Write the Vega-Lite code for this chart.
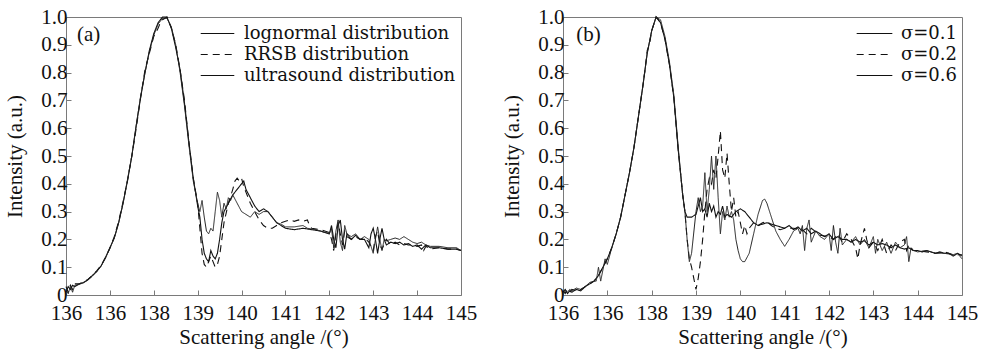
{
  "$schema": "https://vega.github.io/schema/vega-lite/v6.json",
  "background": "white",
  "padding": {"left": 4, "top": 5, "right": 5, "bottom": 2},
  "spacing": 102,
  "bounds": "flush",
  "config": {
    "font": "'Liberation Serif', serif",
    "view": {"stroke": "#7a7a7a", "strokeWidth": 1},
    "axis": {
      "grid": false, "domain": false, "tickColor": "#7a7a7a", "tickSize": -5, "labelOverlap": false,
      "labelFont": "'Liberation Serif', serif", "labelFontSize": 21, "labelColor": "#111",
      "titleFont": "'Liberation Serif', serif", "titleFontSize": 21, "titleFontWeight": "normal", "titleColor": "#111"
    },
    "legend": {"labelFont": "'DejaVu Serif', serif", "labelFontSize": 18, "labelColor": "#111", "labelLimit": 400}
  },
  "datasets": {
    "la1": [
      {"x":136.0,"y":0.01},{"x":136.05,"y":0.03},{"x":136.1,"y":0.02},{"x":136.15,"y":0.035},{"x":136.2,"y":0.03},{"x":136.3,"y":0.04},{"x":136.4,"y":0.045},{"x":136.5,"y":0.055},{"x":136.6,"y":0.07},{"x":136.7,"y":0.085},{"x":136.8,"y":0.105},{"x":136.9,"y":0.135},{"x":137.0,"y":0.17},{"x":137.1,"y":0.205},{"x":137.2,"y":0.26},{"x":137.3,"y":0.33},{"x":137.4,"y":0.41},{"x":137.5,"y":0.5},{"x":137.6,"y":0.61},{"x":137.7,"y":0.71},{"x":137.8,"y":0.8},{"x":137.9,"y":0.88},{"x":138.0,"y":0.94},{"x":138.1,"y":0.98},{"x":138.2,"y":1.0},{"x":138.3,"y":1.0},{"x":138.4,"y":0.96},{"x":138.5,"y":0.89},{"x":138.6,"y":0.81},{"x":138.7,"y":0.69},{"x":138.8,"y":0.55},{"x":138.9,"y":0.42},
      {"x":139.0,"y":0.32},{"x":139.05,"y":0.28},{"x":139.1,"y":0.2},{"x":139.15,"y":0.15},{"x":139.2,"y":0.13},{"x":139.25,"y":0.12},{"x":139.3,"y":0.16},{"x":139.35,"y":0.14},{"x":139.4,"y":0.13},{"x":139.45,"y":0.15},{"x":139.5,"y":0.2},{"x":139.55,"y":0.26},{"x":139.6,"y":0.3},{"x":139.7,"y":0.33},{"x":139.8,"y":0.36},{"x":139.9,"y":0.38},{"x":140.0,"y":0.4},{"x":140.05,"y":0.41},{"x":140.1,"y":0.38},{"x":140.2,"y":0.35},{"x":140.3,"y":0.32},{"x":140.4,"y":0.3},{"x":140.5,"y":0.31},{"x":140.6,"y":0.3},{"x":140.7,"y":0.28},{"x":140.8,"y":0.26},{"x":140.9,"y":0.25},{"x":141.0,"y":0.24},{"x":141.2,"y":0.235},{"x":141.4,"y":0.24},{"x":141.6,"y":0.235},{"x":141.8,"y":0.23},{"x":142.0,"y":0.22},{"x":142.05,"y":0.25},{"x":142.1,"y":0.2},{"x":142.15,"y":0.17},{"x":142.2,"y":0.25},{"x":142.25,"y":0.27},{"x":142.3,"y":0.2},{"x":142.35,"y":0.165},{"x":142.4,"y":0.22},{"x":142.5,"y":0.2},{"x":142.6,"y":0.215},{"x":142.7,"y":0.2},{"x":142.8,"y":0.2},{"x":142.9,"y":0.17},{"x":142.95,"y":0.22},{"x":143.0,"y":0.24},{"x":143.05,"y":0.2},{"x":143.1,"y":0.15},{"x":143.15,"y":0.2},{"x":143.2,"y":0.24},{"x":143.25,"y":0.2},{"x":143.3,"y":0.18},{"x":143.4,"y":0.19},{"x":143.5,"y":0.185},{"x":143.6,"y":0.19},{"x":143.7,"y":0.18},{"x":143.8,"y":0.185},{"x":143.9,"y":0.175},{"x":144.0,"y":0.18},{"x":144.1,"y":0.165},{"x":144.2,"y":0.18},{"x":144.3,"y":0.17},{"x":144.5,"y":0.17},{"x":144.7,"y":0.165},{"x":144.9,"y":0.165},{"x":145.0,"y":0.16}
    ],
    "la2": [
      {"x":136.0,"y":0.03},{"x":136.05,"y":0.01},{"x":136.1,"y":0.035},{"x":136.15,"y":0.02},{"x":136.2,"y":0.04},{"x":136.3,"y":0.04},{"x":136.4,"y":0.047},{"x":136.5,"y":0.056},{"x":136.6,"y":0.07},{"x":136.7,"y":0.087},{"x":136.8,"y":0.107},{"x":136.9,"y":0.135},{"x":137.0,"y":0.168},{"x":137.1,"y":0.21},{"x":137.2,"y":0.265},{"x":137.3,"y":0.335},{"x":137.4,"y":0.41},{"x":137.5,"y":0.5},{"x":137.6,"y":0.6},{"x":137.7,"y":0.71},{"x":137.8,"y":0.81},{"x":137.9,"y":0.87},{"x":138.0,"y":0.93},{"x":138.1,"y":0.96},{"x":138.15,"y":0.98},{"x":138.2,"y":0.99},{"x":138.3,"y":1.0},{"x":138.4,"y":0.96},{"x":138.5,"y":0.9},{"x":138.6,"y":0.81},{"x":138.7,"y":0.7},{"x":138.8,"y":0.55},{"x":138.9,"y":0.42},
      {"x":139.0,"y":0.33},{"x":139.05,"y":0.24},{"x":139.1,"y":0.15},{"x":139.15,"y":0.11},{"x":139.2,"y":0.1},{"x":139.25,"y":0.12},{"x":139.3,"y":0.14},{"x":139.35,"y":0.12},{"x":139.4,"y":0.1},{"x":139.45,"y":0.11},{"x":139.5,"y":0.14},{"x":139.55,"y":0.2},{"x":139.6,"y":0.26},{"x":139.7,"y":0.33},{"x":139.8,"y":0.38},{"x":139.85,"y":0.41},{"x":139.9,"y":0.42},{"x":139.95,"y":0.41},{"x":140.0,"y":0.42},{"x":140.05,"y":0.39},{"x":140.1,"y":0.37},{"x":140.2,"y":0.33},{"x":140.3,"y":0.3},{"x":140.4,"y":0.27},{"x":140.5,"y":0.25},{"x":140.6,"y":0.24},{"x":140.7,"y":0.24},{"x":140.8,"y":0.25},{"x":140.9,"y":0.26},{"x":141.0,"y":0.265},{"x":141.1,"y":0.27},{"x":141.2,"y":0.265},{"x":141.3,"y":0.27},{"x":141.4,"y":0.265},{"x":141.5,"y":0.27},{"x":141.55,"y":0.25},{"x":141.6,"y":0.24},{"x":141.8,"y":0.235},{"x":142.0,"y":0.225},{"x":142.05,"y":0.2},{"x":142.1,"y":0.16},{"x":142.15,"y":0.22},{"x":142.2,"y":0.26},{"x":142.25,"y":0.22},{"x":142.3,"y":0.18},{"x":142.35,"y":0.23},{"x":142.4,"y":0.21},{"x":142.5,"y":0.2},{"x":142.6,"y":0.21},{"x":142.7,"y":0.2},{"x":142.8,"y":0.205},{"x":142.9,"y":0.19},{"x":143.0,"y":0.16},{"x":143.05,"y":0.21},{"x":143.1,"y":0.23},{"x":143.15,"y":0.18},{"x":143.2,"y":0.165},{"x":143.3,"y":0.2},{"x":143.4,"y":0.18},{"x":143.5,"y":0.19},{"x":143.6,"y":0.18},{"x":143.7,"y":0.185},{"x":143.8,"y":0.18},{"x":143.9,"y":0.18},{"x":144.0,"y":0.175},{"x":144.1,"y":0.18},{"x":144.15,"y":0.16},{"x":144.2,"y":0.175},{"x":144.3,"y":0.165},{"x":144.5,"y":0.17},{"x":144.7,"y":0.165},{"x":144.9,"y":0.165},{"x":145.0,"y":0.16}
    ],
    "la3": [
      {"x":136.0,"y":0.02},{"x":136.05,"y":0.005},{"x":136.1,"y":0.03},{"x":136.15,"y":0.01},{"x":136.2,"y":0.035},{"x":136.3,"y":0.038},{"x":136.4,"y":0.044},{"x":136.5,"y":0.054},{"x":136.6,"y":0.068},{"x":136.7,"y":0.084},{"x":136.8,"y":0.104},{"x":136.9,"y":0.133},{"x":137.0,"y":0.168},{"x":137.1,"y":0.205},{"x":137.2,"y":0.26},{"x":137.3,"y":0.33},{"x":137.4,"y":0.415},{"x":137.5,"y":0.5},{"x":137.6,"y":0.61},{"x":137.7,"y":0.715},{"x":137.8,"y":0.8},{"x":137.9,"y":0.875},{"x":138.0,"y":0.935},{"x":138.1,"y":0.975},{"x":138.2,"y":0.995},{"x":138.3,"y":0.995},{"x":138.4,"y":0.965},{"x":138.5,"y":0.9},{"x":138.6,"y":0.8},{"x":138.7,"y":0.68},{"x":138.8,"y":0.54},{"x":138.9,"y":0.41},
      {"x":139.0,"y":0.33},{"x":139.05,"y":0.3},{"x":139.1,"y":0.34},{"x":139.15,"y":0.28},{"x":139.2,"y":0.23},{"x":139.25,"y":0.22},{"x":139.3,"y":0.24},{"x":139.35,"y":0.23},{"x":139.4,"y":0.3},{"x":139.45,"y":0.37},{"x":139.5,"y":0.34},{"x":139.55,"y":0.28},{"x":139.6,"y":0.33},{"x":139.65,"y":0.31},{"x":139.7,"y":0.35},{"x":139.75,"y":0.34},{"x":139.8,"y":0.36},{"x":139.9,"y":0.33},{"x":140.0,"y":0.3},{"x":140.1,"y":0.29},{"x":140.2,"y":0.28},{"x":140.3,"y":0.3},{"x":140.4,"y":0.29},{"x":140.5,"y":0.3},{"x":140.6,"y":0.3},{"x":140.7,"y":0.28},{"x":140.8,"y":0.26},{"x":140.9,"y":0.255},{"x":141.0,"y":0.245},{"x":141.2,"y":0.245},{"x":141.4,"y":0.25},{"x":141.5,"y":0.24},{"x":141.7,"y":0.235},{"x":141.9,"y":0.225},{"x":142.0,"y":0.22},{"x":142.05,"y":0.24},{"x":142.1,"y":0.17},{"x":142.15,"y":0.23},{"x":142.2,"y":0.27},{"x":142.25,"y":0.19},{"x":142.3,"y":0.16},{"x":142.35,"y":0.25},{"x":142.4,"y":0.22},{"x":142.5,"y":0.21},{"x":142.6,"y":0.22},{"x":142.7,"y":0.2},{"x":142.8,"y":0.21},{"x":142.9,"y":0.2},{"x":143.0,"y":0.15},{"x":143.05,"y":0.2},{"x":143.1,"y":0.245},{"x":143.15,"y":0.2},{"x":143.2,"y":0.16},{"x":143.25,"y":0.2},{"x":143.3,"y":0.195},{"x":143.4,"y":0.2},{"x":143.5,"y":0.205},{"x":143.6,"y":0.2},{"x":143.7,"y":0.21},{"x":143.8,"y":0.2},{"x":143.9,"y":0.19},{"x":144.0,"y":0.185},{"x":144.1,"y":0.19},{"x":144.2,"y":0.18},{"x":144.3,"y":0.175},{"x":144.5,"y":0.175},{"x":144.7,"y":0.17},{"x":144.9,"y":0.17},{"x":145.0,"y":0.16}
    ],
    "lb1": [
      {"x":136.0,"y":0.01},{"x":136.05,"y":0.02},{"x":136.1,"y":0.005},{"x":136.15,"y":0.015},{"x":136.2,"y":0.01},{"x":136.3,"y":0.02},{"x":136.4,"y":0.015},{"x":136.5,"y":0.03},{"x":136.6,"y":0.04},{"x":136.7,"y":0.05},{"x":136.8,"y":0.07},{"x":136.9,"y":0.1},{"x":137.0,"y":0.13},{"x":137.1,"y":0.17},{"x":137.2,"y":0.22},{"x":137.3,"y":0.28},{"x":137.4,"y":0.36},{"x":137.5,"y":0.44},{"x":137.6,"y":0.53},{"x":137.7,"y":0.64},{"x":137.8,"y":0.75},{"x":137.9,"y":0.87},{"x":138.0,"y":0.95},{"x":138.1,"y":1.0},{"x":138.2,"y":0.98},{"x":138.3,"y":0.92},{"x":138.4,"y":0.83},{"x":138.5,"y":0.71},{"x":138.6,"y":0.52},{"x":138.7,"y":0.36},{"x":138.75,"y":0.3},
      {"x":138.8,"y":0.28},{"x":138.9,"y":0.28},{"x":139.0,"y":0.29},{"x":139.05,"y":0.32},{"x":139.1,"y":0.35},{"x":139.15,"y":0.3},{"x":139.2,"y":0.31},{"x":139.25,"y":0.28},{"x":139.3,"y":0.33},{"x":139.35,"y":0.3},{"x":139.4,"y":0.32},{"x":139.45,"y":0.28},{"x":139.5,"y":0.3},{"x":139.55,"y":0.29},{"x":139.6,"y":0.32},{"x":139.65,"y":0.28},{"x":139.7,"y":0.29},{"x":139.8,"y":0.28},{"x":139.9,"y":0.3},{"x":140.0,"y":0.31},{"x":140.1,"y":0.3},{"x":140.2,"y":0.28},{"x":140.3,"y":0.26},{"x":140.4,"y":0.25},{"x":140.5,"y":0.255},{"x":140.6,"y":0.26},{"x":140.7,"y":0.255},{"x":140.8,"y":0.25},{"x":140.9,"y":0.245},{"x":141.0,"y":0.24},{"x":141.1,"y":0.25},{"x":141.2,"y":0.235},{"x":141.3,"y":0.245},{"x":141.4,"y":0.23},{"x":141.5,"y":0.24},{"x":141.6,"y":0.22},{"x":141.7,"y":0.23},{"x":141.8,"y":0.22},{"x":141.9,"y":0.21},{"x":142.0,"y":0.22},{"x":142.1,"y":0.2},{"x":142.2,"y":0.21},{"x":142.3,"y":0.2},{"x":142.4,"y":0.2},{"x":142.5,"y":0.19},{"x":142.6,"y":0.2},{"x":142.7,"y":0.19},{"x":142.8,"y":0.195},{"x":142.9,"y":0.18},{"x":143.0,"y":0.19},{"x":143.1,"y":0.18},{"x":143.2,"y":0.185},{"x":143.3,"y":0.18},{"x":143.4,"y":0.17},{"x":143.5,"y":0.18},{"x":143.6,"y":0.17},{"x":143.7,"y":0.165},{"x":143.8,"y":0.17},{"x":143.9,"y":0.16},{"x":144.0,"y":0.16},{"x":144.1,"y":0.155},{"x":144.2,"y":0.16},{"x":144.3,"y":0.155},{"x":144.4,"y":0.15},{"x":144.5,"y":0.155},{"x":144.6,"y":0.15},{"x":144.7,"y":0.15},{"x":144.8,"y":0.14},{"x":144.9,"y":0.15},{"x":145.0,"y":0.14}
    ],
    "lb2": [
      {"x":136.0,"y":0.015},{"x":136.05,"y":0.005},{"x":136.1,"y":0.02},{"x":136.15,"y":0.01},{"x":136.2,"y":0.02},{"x":136.3,"y":0.015},{"x":136.4,"y":0.02},{"x":136.5,"y":0.03},{"x":136.6,"y":0.04},{"x":136.7,"y":0.05},{"x":136.8,"y":0.07},{"x":136.9,"y":0.1},{"x":137.0,"y":0.13},{"x":137.1,"y":0.17},{"x":137.2,"y":0.22},{"x":137.3,"y":0.28},{"x":137.4,"y":0.36},{"x":137.5,"y":0.44},{"x":137.6,"y":0.53},{"x":137.7,"y":0.64},{"x":137.8,"y":0.75},{"x":137.85,"y":0.81},{"x":137.9,"y":0.88},{"x":137.95,"y":0.9},{"x":138.0,"y":0.95},{"x":138.1,"y":1.0},{"x":138.2,"y":0.98},{"x":138.3,"y":0.92},{"x":138.4,"y":0.83},{"x":138.5,"y":0.71},{"x":138.6,"y":0.52},{"x":138.7,"y":0.36},{"x":138.75,"y":0.3},
      {"x":138.8,"y":0.2},{"x":138.85,"y":0.13},{"x":138.9,"y":0.1},{"x":138.95,"y":0.06},{"x":139.0,"y":0.02},{"x":139.05,"y":0.06},{"x":139.1,"y":0.12},{"x":139.15,"y":0.2},{"x":139.2,"y":0.3},{"x":139.25,"y":0.38},{"x":139.3,"y":0.42},{"x":139.35,"y":0.4},{"x":139.4,"y":0.45},{"x":139.45,"y":0.42},{"x":139.5,"y":0.5},{"x":139.55,"y":0.59},{"x":139.6,"y":0.45},{"x":139.65,"y":0.42},{"x":139.7,"y":0.51},{"x":139.75,"y":0.4},{"x":139.8,"y":0.3},{"x":139.85,"y":0.35},{"x":139.9,"y":0.28},{"x":139.95,"y":0.3},{"x":140.0,"y":0.26},{"x":140.05,"y":0.22},{"x":140.1,"y":0.25},{"x":140.15,"y":0.22},{"x":140.2,"y":0.24},{"x":140.3,"y":0.26},{"x":140.4,"y":0.25},{"x":140.5,"y":0.26},{"x":140.6,"y":0.265},{"x":140.7,"y":0.25},{"x":140.8,"y":0.24},{"x":140.9,"y":0.235},{"x":141.0,"y":0.24},{"x":141.2,"y":0.24},{"x":141.4,"y":0.235},{"x":141.5,"y":0.22},{"x":141.6,"y":0.24},{"x":141.8,"y":0.215},{"x":142.0,"y":0.21},{"x":142.1,"y":0.2},{"x":142.2,"y":0.22},{"x":142.3,"y":0.19},{"x":142.4,"y":0.22},{"x":142.5,"y":0.2},{"x":142.6,"y":0.17},{"x":142.65,"y":0.13},{"x":142.7,"y":0.18},{"x":142.8,"y":0.24},{"x":142.85,"y":0.2},{"x":142.9,"y":0.17},{"x":143.0,"y":0.19},{"x":143.1,"y":0.16},{"x":143.2,"y":0.2},{"x":143.3,"y":0.15},{"x":143.4,"y":0.18},{"x":143.5,"y":0.16},{"x":143.6,"y":0.19},{"x":143.7,"y":0.2},{"x":143.75,"y":0.16},{"x":143.8,"y":0.18},{"x":143.9,"y":0.16},{"x":144.0,"y":0.16},{"x":144.2,"y":0.155},{"x":144.4,"y":0.15},{"x":144.6,"y":0.155},{"x":144.8,"y":0.145},{"x":145.0,"y":0.145}
    ],
    "lb3": [
      {"x":136.0,"y":0.005},{"x":136.05,"y":0.015},{"x":136.1,"y":0.01},{"x":136.15,"y":0.02},{"x":136.2,"y":0.015},{"x":136.3,"y":0.025},{"x":136.4,"y":0.02},{"x":136.5,"y":0.03},{"x":136.6,"y":0.045},{"x":136.7,"y":0.05},{"x":136.75,"y":0.05},{"x":136.8,"y":0.1},{"x":136.85,"y":0.05},{"x":136.9,"y":0.09},{"x":136.95,"y":0.13},{"x":137.0,"y":0.11},{"x":137.05,"y":0.14},{"x":137.1,"y":0.17},{"x":137.2,"y":0.22},{"x":137.3,"y":0.28},{"x":137.4,"y":0.36},{"x":137.5,"y":0.44},{"x":137.6,"y":0.53},{"x":137.7,"y":0.64},{"x":137.8,"y":0.75},{"x":137.9,"y":0.87},{"x":138.0,"y":0.95},{"x":138.1,"y":1.0},{"x":138.2,"y":0.99},{"x":138.3,"y":0.93},{"x":138.4,"y":0.84},{"x":138.5,"y":0.72},{"x":138.6,"y":0.53},{"x":138.7,"y":0.36},{"x":138.75,"y":0.3},
      {"x":138.8,"y":0.2},{"x":138.85,"y":0.12},{"x":138.9,"y":0.15},{"x":139.0,"y":0.3},{"x":139.05,"y":0.35},{"x":139.1,"y":0.3},{"x":139.15,"y":0.32},{"x":139.2,"y":0.44},{"x":139.25,"y":0.3},{"x":139.3,"y":0.38},{"x":139.35,"y":0.5},{"x":139.4,"y":0.38},{"x":139.45,"y":0.5},{"x":139.5,"y":0.35},{"x":139.55,"y":0.22},{"x":139.6,"y":0.3},{"x":139.65,"y":0.27},{"x":139.7,"y":0.32},{"x":139.75,"y":0.28},{"x":139.8,"y":0.3},{"x":139.85,"y":0.27},{"x":139.9,"y":0.2},{"x":139.95,"y":0.16},{"x":140.0,"y":0.13},{"x":140.05,"y":0.12},{"x":140.1,"y":0.12},{"x":140.2,"y":0.15},{"x":140.3,"y":0.22},{"x":140.4,"y":0.29},{"x":140.5,"y":0.34},{"x":140.55,"y":0.345},{"x":140.6,"y":0.33},{"x":140.7,"y":0.28},{"x":140.8,"y":0.23},{"x":140.9,"y":0.2},{"x":141.0,"y":0.175},{"x":141.1,"y":0.2},{"x":141.2,"y":0.23},{"x":141.3,"y":0.24},{"x":141.35,"y":0.22},{"x":141.4,"y":0.25},{"x":141.45,"y":0.16},{"x":141.5,"y":0.24},{"x":141.55,"y":0.27},{"x":141.6,"y":0.19},{"x":141.7,"y":0.23},{"x":141.8,"y":0.21},{"x":141.9,"y":0.2},{"x":142.0,"y":0.22},{"x":142.05,"y":0.16},{"x":142.1,"y":0.25},{"x":142.15,"y":0.19},{"x":142.2,"y":0.15},{"x":142.25,"y":0.24},{"x":142.3,"y":0.18},{"x":142.4,"y":0.2},{"x":142.5,"y":0.19},{"x":142.6,"y":0.21},{"x":142.7,"y":0.18},{"x":142.8,"y":0.2},{"x":142.9,"y":0.17},{"x":143.0,"y":0.21},{"x":143.05,"y":0.15},{"x":143.1,"y":0.2},{"x":143.2,"y":0.16},{"x":143.3,"y":0.19},{"x":143.4,"y":0.15},{"x":143.5,"y":0.19},{"x":143.6,"y":0.17},{"x":143.7,"y":0.18},{"x":143.75,"y":0.21},{"x":143.8,"y":0.12},{"x":143.85,"y":0.17},{"x":143.9,"y":0.16},{"x":144.0,"y":0.155},{"x":144.2,"y":0.16},{"x":144.4,"y":0.15},{"x":144.6,"y":0.15},{"x":144.8,"y":0.145},{"x":144.9,"y":0.15},{"x":145.0,"y":0.13}
    ]
  },
  "hconcat": [
    {
      "width": 395,
      "height": 278,
      "layer": [
        {"data": {"name": "la1"}, "mark": {"type": "line", "color": "#111", "strokeWidth": 1.1},
         "encoding": {
           "x": {"field": "x", "type": "quantitative", "scale": {"domain": [136, 145], "nice": false}, "axis": {"values": [136,137,138,139,140,141,142,143,144,145], "labelExpr": "datum.value == 137 ? '136' : format(datum.value, 'd')", "title": "Scattering angle /(°)", "labelPadding": 12, "titlePadding": 3, "labelFlush": false, "labelOverlap": false}},
           "y": {"field": "y", "type": "quantitative", "scale": {"domain": [0, 1], "nice": false}, "axis": {"values": [0,0.1,0.2,0.3,0.4,0.5,0.6,0.7,0.8,0.9,1.0], "tickCount": 11, "labelExpr": "datum.value == 0 ? '0' : format(datum.value, '.1f')", "title": "Intensity (a.u.)", "labelPadding": 4, "titlePadding": 15, "labelFlush": false, "labelOverlap": false}},
           "strokeDash": {"datum": "lognormal distribution", "type": "nominal", "scale": {"domain": ["lognormal distribution", "RRSB distribution", "ultrasound distribution"], "range": [[1,0],[7,5],[1,0]]}, "legend": {"title": null, "orient": "top-right", "offset": 5, "symbolType": "M-1.6,0H1.6", "symbolSize": 440, "symbolStrokeWidth": 1.1, "symbolStrokeColor": "#111", "symbolFillColor": "transparent", "rowPadding": 0, "labelOffset": 15}}
         }},
        {"data": {"name": "la2"}, "mark": {"type": "line", "color": "#111", "strokeWidth": 1.1},
         "encoding": {
           "x": {"field": "x", "type": "quantitative", "scale": {"domain": [136, 145], "nice": false}, "axis": {"values": [136,137,138,139,140,141,142,143,144,145], "labelExpr": "datum.value == 137 ? '136' : format(datum.value, 'd')", "title": "Scattering angle /(°)", "labelPadding": 12, "titlePadding": 3, "labelFlush": false, "labelOverlap": false}},
           "y": {"field": "y", "type": "quantitative", "scale": {"domain": [0, 1], "nice": false}, "axis": {"values": [0,0.1,0.2,0.3,0.4,0.5,0.6,0.7,0.8,0.9,1.0], "tickCount": 11, "labelExpr": "datum.value == 0 ? '0' : format(datum.value, '.1f')", "title": "Intensity (a.u.)", "labelPadding": 4, "titlePadding": 15, "labelFlush": false, "labelOverlap": false}},
           "strokeDash": {"datum": "RRSB distribution", "type": "nominal"}}},
        {"data": {"name": "la3"}, "mark": {"type": "line", "color": "#222", "strokeWidth": 1.0},
         "encoding": {
           "x": {"field": "x", "type": "quantitative", "scale": {"domain": [136, 145], "nice": false}, "axis": {"values": [136,137,138,139,140,141,142,143,144,145], "labelExpr": "datum.value == 137 ? '136' : format(datum.value, 'd')", "title": "Scattering angle /(°)", "labelPadding": 12, "titlePadding": 3, "labelFlush": false, "labelOverlap": false}},
           "y": {"field": "y", "type": "quantitative", "scale": {"domain": [0, 1], "nice": false}, "axis": {"values": [0,0.1,0.2,0.3,0.4,0.5,0.6,0.7,0.8,0.9,1.0], "tickCount": 11, "labelExpr": "datum.value == 0 ? '0' : format(datum.value, '.1f')", "title": "Intensity (a.u.)", "labelPadding": 4, "titlePadding": 15, "labelFlush": false, "labelOverlap": false}},
           "strokeDash": {"datum": "ultrasound distribution", "type": "nominal"}}},
        {"data": {"values": [{}]}, "mark": {"type": "text", "text": "(a)", "align": "left", "baseline": "middle", "fontSize": 21, "font": "'Liberation Serif', serif", "color": "#111"},
         "encoding": {"x": {"datum": 136.25, "type": "quantitative"}, "y": {"datum": 0.935, "type": "quantitative"}}}
      ]
    },
    {
      "width": 399,
      "height": 278,
      "layer": [
        {"data": {"name": "lb1"}, "mark": {"type": "line", "color": "#111", "strokeWidth": 1.1},
         "encoding": {
           "x": {"field": "x", "type": "quantitative", "scale": {"domain": [136, 145], "nice": false}, "axis": {"values": [136,137,138,139,140,141,142,143,144,145], "labelExpr": "datum.value == 137 ? '136' : format(datum.value, 'd')", "title": "Scattering angle /(°)", "labelPadding": 12, "titlePadding": 3, "labelFlush": false, "labelOverlap": false}},
           "y": {"field": "y", "type": "quantitative", "scale": {"domain": [0, 1], "nice": false}, "axis": {"values": [0,0.1,0.2,0.3,0.4,0.5,0.6,0.7,0.8,0.9,1.0], "tickCount": 11, "labelExpr": "datum.value == 0 ? '0' : format(datum.value, '.1f')", "title": "Intensity (a.u.)", "labelPadding": 4, "titlePadding": 15, "labelFlush": false, "labelOverlap": false}},
           "strokeDash": {"datum": "σ=0.1", "type": "nominal", "scale": {"domain": ["σ=0.1", "σ=0.2", "σ=0.6"], "range": [[1,0],[7,5],[1,0]]}, "legend": {"title": null, "orient": "top-right", "offset": 5, "symbolType": "M-1.7,0H1.7", "symbolSize": 440, "symbolStrokeWidth": 1.1, "symbolStrokeColor": "#111", "symbolFillColor": "transparent", "rowPadding": 0, "labelOffset": 15}}
         }},
        {"data": {"name": "lb2"}, "mark": {"type": "line", "color": "#111", "strokeWidth": 1.1},
         "encoding": {
           "x": {"field": "x", "type": "quantitative", "scale": {"domain": [136, 145], "nice": false}, "axis": {"values": [136,137,138,139,140,141,142,143,144,145], "labelExpr": "datum.value == 137 ? '136' : format(datum.value, 'd')", "title": "Scattering angle /(°)", "labelPadding": 12, "titlePadding": 3, "labelFlush": false, "labelOverlap": false}},
           "y": {"field": "y", "type": "quantitative", "scale": {"domain": [0, 1], "nice": false}, "axis": {"values": [0,0.1,0.2,0.3,0.4,0.5,0.6,0.7,0.8,0.9,1.0], "tickCount": 11, "labelExpr": "datum.value == 0 ? '0' : format(datum.value, '.1f')", "title": "Intensity (a.u.)", "labelPadding": 4, "titlePadding": 15, "labelFlush": false, "labelOverlap": false}},
           "strokeDash": {"datum": "σ=0.2", "type": "nominal"}}},
        {"data": {"name": "lb3"}, "mark": {"type": "line", "color": "#222", "strokeWidth": 1.0},
         "encoding": {
           "x": {"field": "x", "type": "quantitative", "scale": {"domain": [136, 145], "nice": false}, "axis": {"values": [136,137,138,139,140,141,142,143,144,145], "labelExpr": "datum.value == 137 ? '136' : format(datum.value, 'd')", "title": "Scattering angle /(°)", "labelPadding": 12, "titlePadding": 3, "labelFlush": false, "labelOverlap": false}},
           "y": {"field": "y", "type": "quantitative", "scale": {"domain": [0, 1], "nice": false}, "axis": {"values": [0,0.1,0.2,0.3,0.4,0.5,0.6,0.7,0.8,0.9,1.0], "tickCount": 11, "labelExpr": "datum.value == 0 ? '0' : format(datum.value, '.1f')", "title": "Intensity (a.u.)", "labelPadding": 4, "titlePadding": 15, "labelFlush": false, "labelOverlap": false}},
           "strokeDash": {"datum": "σ=0.6", "type": "nominal"}}},
        {"data": {"values": [{}]}, "mark": {"type": "text", "text": "(b)", "align": "left", "baseline": "middle", "fontSize": 21, "font": "'Liberation Serif', serif", "color": "#111"},
         "encoding": {"x": {"datum": 136.3, "type": "quantitative"}, "y": {"datum": 0.935, "type": "quantitative"}}}
      ]
    }
  ],
  "resolve": {"scale": {"strokeDash": "independent", "x": "independent", "y": "independent"}, "legend": {"strokeDash": "independent"}}
}
